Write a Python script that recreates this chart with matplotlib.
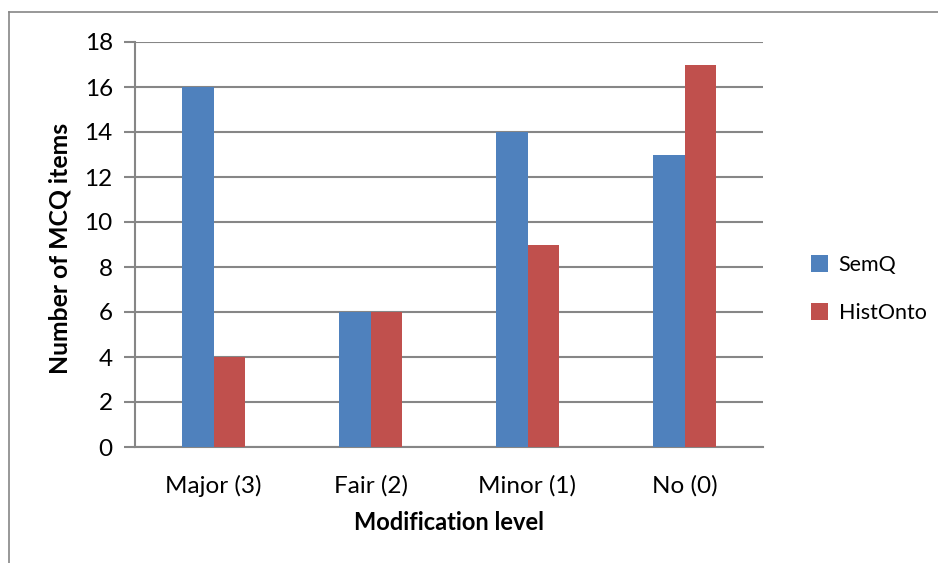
import matplotlib
matplotlib.use("Agg")
import matplotlib.pyplot as plt
import numpy as np

plt.rcParams["font.family"] = ["Lato", "DejaVu Sans"]

categories = ["Major (3)", "Fair (2)", "Minor (1)", "No (0)"]
semq = [16, 6, 14, 13]
histonto = [4, 6, 9, 17]

fig = plt.figure(figsize=(9.38, 5.63), dpi=100)
ax = fig.add_axes([135 / 938, 1 - 447 / 563, (763 - 135) / 938, (447 - 42) / 563])

# outer chart frame (left and top edges visible)
fig.add_artist(plt.Line2D([9 / 938, 9 / 938], [0, 1 - 12 / 563], transform=fig.transFigure, color="#868686", lw=1.2))
fig.add_artist(plt.Line2D([9 / 938, 1], [1 - 12 / 563, 1 - 12 / 563], transform=fig.transFigure, color="#868686", lw=1.2))

x = np.arange(len(categories))
w = 0.2
ax.bar(x - w / 2, semq, w, color="#4F81BD", label="SemQ", zorder=3)
ax.bar(x + w / 2, histonto, w, color="#C0504D", label="HistOnto", zorder=3)

ax.set_xlim(-0.5, 3.5)
ax.set_ylim(0, 18)
ax.set_yticks(range(0, 19, 2))
ax.set_xticks(x)
ax.set_xticklabels(categories, fontsize=17.5)
ax.tick_params(axis="y", labelsize=17.5, length=8, color="#868686", width=1.5, pad=8)
ax.tick_params(axis="x", length=0, pad=20)
ax.grid(axis="y", color="#868686", lw=1.5, zorder=0)

for s in ["top", "right"]:
    ax.spines[s].set_visible(False)
ax.spines["left"].set_color("#868686")
ax.spines["left"].set_linewidth(1.5)
ax.spines["bottom"].set_color("#868686")
ax.spines["bottom"].set_linewidth(1.5)

ax.set_ylabel("Number of MCQ items", fontsize=17.8, fontweight="bold")
ax.yaxis.set_label_coords(-0.101, 0.49)
ax.set_xlabel("Modification level", fontsize=17, fontweight="bold", labelpad=10)

ax.legend(loc="center left", bbox_to_anchor=(1.045, 0.39), frameon=False, fontsize=15.5,
          handlelength=0.8, handleheight=0.8, labelspacing=1.3, handletextpad=0.5)

fig.savefig("out.png", dpi=100)
